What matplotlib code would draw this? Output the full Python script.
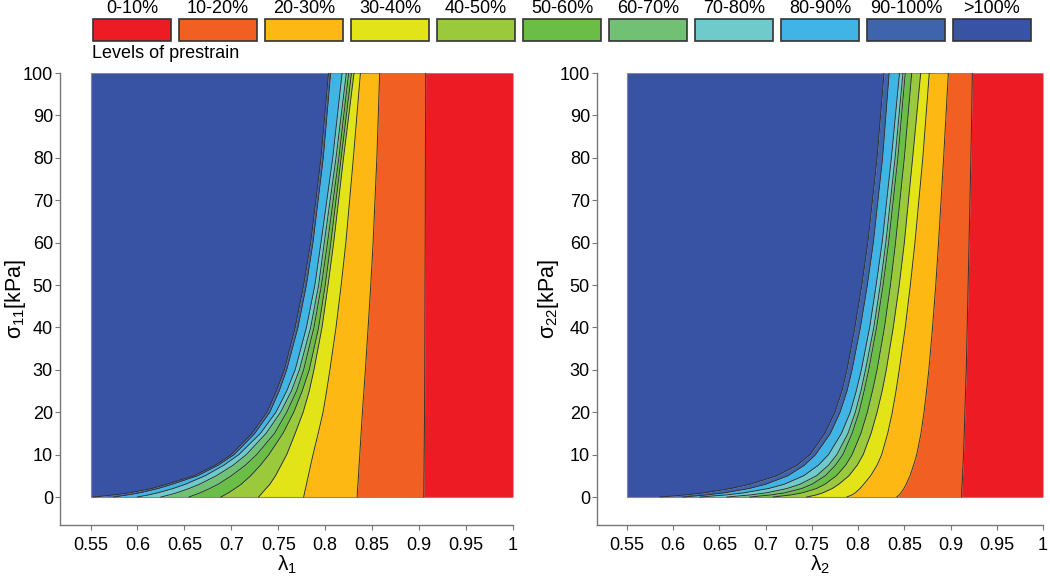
import matplotlib
matplotlib.use("Agg")
import matplotlib.pyplot as plt
from matplotlib.patches import Rectangle
import numpy as np

plt.rcParams['font.family'] = ['Liberation Sans', 'DejaVu Sans']
plt.rcParams['mathtext.fontset'] = 'custom'
plt.rcParams['mathtext.rm'] = 'Liberation Sans'
plt.rcParams['mathtext.it'] = 'Liberation Sans'

# prestrain classes (legend) and colours
levels = ['0-10%', '10-20%', '20-30%', '30-40%', '40-50%', '50-60%',
          '60-70%', '70-80%', '80-90%', '90-100%', '>100%']
colors = ['#ED1C24', '#F15F22', '#FDB813', '#E3E418', '#9ACA3C', '#6ABD45',
          '#70C174', '#6FCBCB', '#3FB4E5', '#3F64AE', '#3953A4']

# stress values where the boundaries were read
sigma = [0, 0.5, 1, 2, 3, 5, 7.5, 10, 15, 20, 25, 30, 40, 50, 60, 80, 100]

# left panel: lambda_1 of each boundary (10%, 20%, ... 100%)
left_10 = [0.905, 0.905, 0.905, 0.9051, 0.9051, 0.9052, 0.9053, 0.9054, 0.9056, 0.9058, 0.9059, 0.906, 0.9062, 0.9063, 0.9065, 0.9067, 0.907]
left_20 = [0.834, 0.8341, 0.8342, 0.8345, 0.8348, 0.8354, 0.8361, 0.8368, 0.8382, 0.8396, 0.8412, 0.8428, 0.8457, 0.8485, 0.851, 0.855, 0.858]
left_30 = [0.777, 0.7775, 0.778, 0.779, 0.780, 0.782, 0.7845, 0.787, 0.7925, 0.7977, 0.8015, 0.805, 0.8115, 0.817, 0.822, 0.830, 0.8375]
left_40 = [0.729, 0.731, 0.733, 0.737, 0.741, 0.747, 0.753, 0.759, 0.768, 0.7765, 0.783, 0.788, 0.7966, 0.803, 0.809, 0.8195, 0.8307]
left_50 = [0.689, 0.693, 0.697, 0.704, 0.7105, 0.7205, 0.731, 0.740, 0.755, 0.7665, 0.7755, 0.783, 0.793, 0.800, 0.806, 0.817, 0.828]
left_60 = [0.655, 0.661, 0.667, 0.677, 0.686, 0.700, 0.715, 0.727, 0.746, 0.759, 0.7695, 0.777, 0.788, 0.796, 0.8025, 0.8145, 0.825]
left_70 = [0.625, 0.634, 0.642, 0.655, 0.666, 0.684, 0.702, 0.716, 0.737, 0.7525, 0.764, 0.7725, 0.7845, 0.793, 0.799, 0.8115, 0.8225]
left_80 = [0.600, 0.612, 0.622, 0.638, 0.651, 0.672, 0.692, 0.708, 0.731, 0.7475, 0.759, 0.768, 0.780, 0.789, 0.7955, 0.808, 0.818]
left_90 = [0.575, 0.590, 0.603, 0.622, 0.637, 0.664, 0.686, 0.703, 0.725, 0.741, 0.751, 0.759, 0.771, 0.780, 0.787, 0.798, 0.8058]
left_100 = [0.553, 0.575, 0.592, 0.615, 0.631, 0.660, 0.683, 0.700, 0.722, 0.738, 0.748, 0.7565, 0.768, 0.777, 0.7845, 0.7955, 0.8035]

# right panel: lambda_2 of each boundary
right_10 = [0.912, 0.912, 0.912, 0.9122, 0.9125, 0.913, 0.9135, 0.914, 0.9148, 0.9155, 0.9162, 0.917, 0.918, 0.919, 0.920, 0.922, 0.9236]
right_20 = [0.8418, 0.8445, 0.8465, 0.8495, 0.852, 0.8561, 0.860, 0.8634, 0.868, 0.8713, 0.874, 0.8765, 0.8805, 0.884, 0.887, 0.8925, 0.8976]
right_30 = [0.7877, 0.7935, 0.797, 0.802, 0.806, 0.8135, 0.8205, 0.8255, 0.832, 0.837, 0.841, 0.8445, 0.851, 0.8565, 0.8615, 0.870, 0.877]
right_40 = [0.7444, 0.755, 0.762, 0.772, 0.779, 0.790, 0.799, 0.8055, 0.814, 0.8205, 0.826, 0.8305, 0.838, 0.8445, 0.850, 0.859, 0.8677]
right_50 = [0.708, 0.728, 0.740, 0.755, 0.764, 0.7765, 0.7865, 0.7935, 0.803, 0.810, 0.8155, 0.8205, 0.8285, 0.835, 0.8405, 0.850, 0.858]
right_60 = [0.683, 0.706, 0.721, 0.739, 0.750, 0.7645, 0.7755, 0.7835, 0.7935, 0.801, 0.8065, 0.8115, 0.820, 0.827, 0.833, 0.843, 0.851]
right_70 = [0.658, 0.684, 0.701, 0.723, 0.737, 0.755, 0.768, 0.777, 0.789, 0.797, 0.803, 0.808, 0.817, 0.824, 0.830, 0.840, 0.8485]
right_80 = [0.629, 0.658, 0.677, 0.703, 0.720, 0.741, 0.757, 0.768, 0.782, 0.7915, 0.798, 0.8035, 0.8125, 0.8195, 0.826, 0.836, 0.8448]
right_90 = [0.6106, 0.637, 0.656, 0.682, 0.700, 0.724, 0.742, 0.754, 0.770, 0.7805, 0.788, 0.7935, 0.8025, 0.810, 0.8165, 0.8265, 0.8336]
right_100 = [0.5857, 0.614, 0.634, 0.662, 0.683, 0.712, 0.734, 0.748, 0.764, 0.775, 0.7825, 0.788, 0.7965, 0.804, 0.8105, 0.8205, 0.828]

xticks = [0.55, 0.6, 0.65, 0.7, 0.75, 0.8, 0.85, 0.9, 0.95, 1]
xticklabels = ['0.55', '0.6', '0.65', '0.7', '0.75', '0.8', '0.85', '0.9', '0.95', '1']
yticks = list(range(0, 101, 10))

fig = plt.figure(figsize=(10.5, 5.76), dpi=100)


def draw_panel(ax, bounds, xlabel, ylabel, ylab_x):
    s = np.array(sigma)
    lam_min = np.full(len(s), 0.55)
    lam_max = np.full(len(s), 1.0)
    # edges from the far left (>100%) to the right (0-10%)
    edges = [lam_min] + [np.array(b) for b in bounds[::-1]] + [lam_max]
    for i in range(len(edges) - 1):
        ax.fill_betweenx(s, edges[i], edges[i + 1], color=colors[::-1][i], lw=0)
    for b in bounds:
        ax.plot(b, s, color='#333333', lw=0.7)
    ax.add_patch(Rectangle((0.55, 0), 0.45, 100, fill=False, ec='#888888', lw=0.8))
    ax.set_xlim(0.5175, 1.0)
    ax.set_ylim(-6.6, 100)
    ax.set_xticks(xticks)
    ax.set_xticklabels(xticklabels)
    ax.set_yticks(yticks)
    for side in ['top', 'right']:
        ax.spines[side].set_visible(False)
    for side in ['left', 'bottom']:
        ax.spines[side].set_color('#777777')
        ax.spines[side].set_linewidth(1.0)
    ax.tick_params(direction='out', length=3.6, color='#777777', labelsize=13)
    ax.tick_params(axis='y', pad=1.5)
    ax.tick_params(axis='x', pad=5)
    ax.set_xlabel(xlabel, fontsize=15, labelpad=0)
    ax.set_ylabel(ylabel, fontsize=15.5)
    ax.yaxis.set_label_coords(ylab_x, 0.5)


ax1 = fig.add_axes([60 / 1050, 1 - 525 / 576, 453 / 1050, 452 / 576])
draw_panel(ax1, [left_10, left_20, left_30, left_40, left_50, left_60,
                 left_70, left_80, left_90, left_100],
           r'$\lambda_1$', r'$\sigma_{11}$[kPa]', -0.07)

ax2 = fig.add_axes([597 / 1050, 1 - 525 / 576, 446 / 1050, 452 / 576])
draw_panel(ax2, [right_10, right_20, right_30, right_40, right_50, right_60,
                 right_70, right_80, right_90, right_100],
           r'$\lambda_2$', r'$\sigma_{22}$[kPa]', -0.08)

# legend boxes along the top
lg = fig.add_axes([0, 0, 1, 1])
lg.set_xlim(0, 1050)
lg.set_ylim(576, 0)
lg.axis('off')
for k, (lab, c) in enumerate(zip(levels, colors)):
    x0 = 93 + 86 * k
    lg.add_patch(Rectangle((x0, 19), 78, 22, fc=c, ec='#333333', lw=1.2))
    lg.text(x0 + 39, 8.5, lab, ha='center', va='center', fontsize=13)
lg.text(92, 54, 'Levels of prestrain', ha='left', va='center', fontsize=13)

fig.savefig('out.png', dpi=100)
